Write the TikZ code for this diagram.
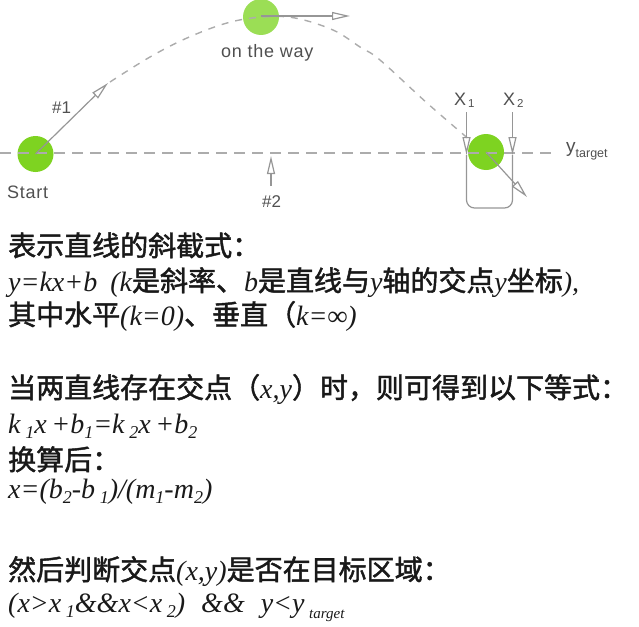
\documentclass[tikz,border=0pt]{standalone}
\usepackage{fontspec}
\setmainfont{Liberation Serif}
\newfontfamily\cjkfont{Noto Sans CJK SC}[FakeBold=1.6]
\newfontfamily\lblfont{Liberation Sans}[LetterSpace=4.0]
\newfontfamily\lblplain{Liberation Sans}
\usetikzlibrary{arrows.meta}
\definecolor{ballgreen}{RGB}{126,211,33}
\definecolor{ballgreenlight}{RGB}{155,222,85}
\definecolor{dashgray}{RGB}{172,172,172}
\definecolor{arrgray}{RGB}{150,150,150}
\definecolor{labelgray}{RGB}{80,80,80}
\definecolor{txt}{RGB}{25,25,25}
\newcommand\zh[1]{{\cjkfont #1}}
\newcommand\mt[1]{{\itshape #1}}
\newcommand\sbs[1]{\raisebox{-5pt}{\fontsize{18}{18}\selectfont\itshape #1}}
\newcommand\sbt[1]{\raisebox{-6pt}{\fontsize{15}{15}\selectfont\itshape #1}}
\begin{document}
\begin{tikzpicture}[x=1pt,y=-1pt,
  dashline/.style={draw=dashgray, dash pattern=on 11pt off 7pt, line width=1.8pt},
  arcline/.style={draw=dashgray, dash pattern=on 7pt off 7pt, line width=1.4pt},
  arr/.style={draw=arrgray, line width=1.2pt, -{Triangle[open,length=18pt,width=8pt]}},
  ball/.style={circle, minimum size=36pt, inner sep=0pt, draw=none},
  lbl/.style={font=\lblfont\fontsize{18}{18}\selectfont, text=labelgray, inner sep=0pt, anchor=base west},
  sym/.style={font=\lblplain\fontsize{17}{17}\selectfont, text=labelgray, inner sep=0pt, anchor=base west},
  txtline/.style={anchor=base west, inner sep=0pt, text=txt, font=\fontsize{28}{28}\selectfont}
]
\useasboundingbox (0,0) rectangle (639,626);

% balls
\node[ball, fill=ballgreen] (start) at (35.5,154) {};
\node[ball, fill=ballgreenlight] (way) at (261,17) {};
\node[ball, fill=ballgreen] (target) at (486,152) {};

% coordinates
\coordinate (baseL) at (0,153);
\coordinate (baseR) at (556,153);
\coordinate (tip1) at (108,83);
\coordinate (wayend) at (350,16);
\coordinate (tip2) at (271,156);
\coordinate (tail2) at (271,186);
\coordinate (x1top) at (466.5,112);
\coordinate (x1bot) at (466.5,155);
\coordinate (x2top) at (512.5,112);
\coordinate (x2bot) at (512.5,155);
\coordinate (tipT) at (527,197);

% horizontal target line
\draw[dashline] (baseL) -- (baseR);

% trajectory
\draw[arcline] plot[smooth, tension=0.6] coordinates {(110,82) (150,57) (187,38) (227,23) (262,17) (295,18) (333,30) (360,47) (380,60) (427,103) (471,141)};

% target box
\draw[draw=arrgray, line width=1.2pt, rounded corners=8pt] (x1bot) -- (466.5,208) -- (512.5,208) -- (x2bot);

% arrows
\draw[arr] (start.center) -- (tip1);
\draw[arr] (261,16) -- (wayend);
\draw[arr] (tail2) -- (tip2);
\draw[arr] (x1top) -- (x1bot);
\draw[arr] (x2top) -- (x2bot);
\draw[arr] (target.center) -- (tipT);

% labels
\node[lbl] (startlbl) at (7,198) {Start};
\node[lbl] (waylbl) at (221,58) {on the way};
\node[sym] (n1) at (52,113) {\#1};
\node[sym] (n2) at (262,207) {\#2};
\node[sym, font=\lblplain\fontsize{18}{18}\selectfont] (x1lbl) at (454,105) {X{\fontsize{11.5}{11.5}\selectfont\raisebox{-2pt}{\,1}}};
\node[sym, font=\lblplain\fontsize{18}{18}\selectfont] (x2lbl) at (503,105) {X{\fontsize{11.5}{11.5}\selectfont\raisebox{-2pt}{\,2}}};
\node[sym, font=\lblplain\fontsize{19}{19}\selectfont] (ylbl) at (566,152) {y{\fontsize{12.5}{12.5}\selectfont\raisebox{-5pt}{target}}};

% text lines
\node[txtline] (l1) at (8,256) {\zh{表示直线的斜截式：}};
\node[txtline] (l2) at (8,291) {\mt{y=kx+b}\hspace{13pt}\mt{(k}\zh{是斜率、}\mt{b}\zh{是直线与}\mt{y}\zh{轴的交点}\mt{y}\zh{坐标}\mt{),}};
\node[txtline] (l3) at (8,325) {\zh{其中水平}\mt{(k=0)}\zh{、垂直（}\mt{k=∞)}};
\node[txtline] (l5) at (8,398) {\zh{当两直线存在交点（}\mt{x,y}\zh{）时，则可得到以下等式：}};
\node[txtline] (l6) at (8,433) {\mt{k\,\sbs{1}x\,+b\sbs{1}=k\,\sbs{2}x\,+b\sbs{2}}};
\node[txtline] (l7) at (8,470) {\zh{换算后：}};
\node[txtline] (l8) at (8,498) {\mt{x=(b\sbs{2}-b\,\sbs{1})/(m\sbs{1}-m\sbs{2})}};
\node[txtline] (l10) at (8,580) {\zh{然后判断交点}\mt{(x,y)}\zh{是否在目标区域：}};
\node[txtline] (l11) at (8,612) {\mt{(x>x\,\sbs{1}\&\&x<x\,\sbs{2})\hspace{16pt}\&\&\hspace{16pt}y<y\,\sbt{target}}};
\end{tikzpicture}
\end{document}
